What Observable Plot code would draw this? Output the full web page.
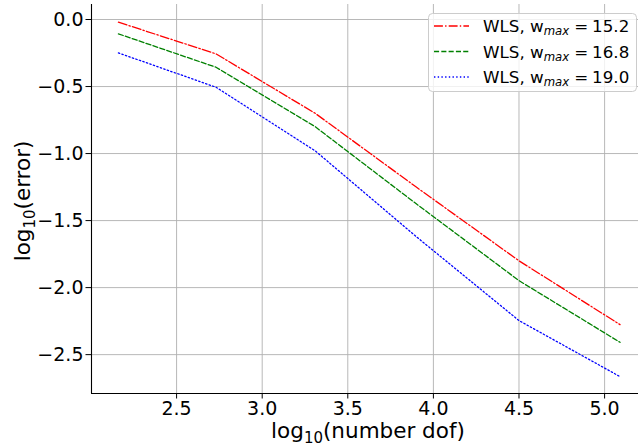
<!DOCTYPE html>
<html>
<head>
<meta charset="utf-8">
<script src="https://cdn.jsdelivr.net/npm/d3@7"></script>
<script src="https://cdn.jsdelivr.net/npm/@observablehq/plot@0.6"></script>
<style>
  html, body { margin: 0; padding: 0; background: #fff; }
  svg { display: block; }
</style>
</head>
<body>
<div id="chart"></div>
<script>
const dofLog = [2.16, 2.73, 3.31, 3.9, 4.5, 5.09];
const errRed = [-0.02, -0.256, -0.70, -1.25, -1.80, -2.276];
const errGreen = [-0.107, -0.356, -0.80, -1.375, -1.948, -2.408];
const errBlue = [-0.249, -0.505, -0.98, -1.62, -2.246, -2.664];
const seriesNames = ["15.2", "16.8", "19.0"];
const seriesColors = ["red", "green", "blue"];
const seriesDash = ["8.9,2.2,1.4,2.2", "5.1,2.2", "1.4,2.3"];
const xTicks = [2.5, 3.0, 3.5, 4.0, 4.5, 5.0];
const yTicks = [0.0, -0.5, -1.0, -1.5, -2.0, -2.5];

const allSeries = [errRed, errGreen, errBlue];
const rows = [];
allSeries.forEach((vals, s) => vals.forEach((v, i) => rows.push({x: dofLog[i], y: v, s})));

const xDom = [2.003, 5.198];
const yDom = [-2.79, 0.112];
const fmt = d3.format(".1f");

const plot = Plot.plot({
  width: 638,
  height: 448,
  marginLeft: 91,
  marginRight: 0,
  marginTop: 4,
  marginBottom: 55,
  style: {fontFamily: "DejaVu Sans", fontSize: "19px", background: "#fff", color: "#000"},
  x: {domain: xDom, label: null},
  y: {domain: yDom, label: null},
  marks: [
    Plot.gridX(xTicks, {stroke: "#b0b0b0", strokeOpacity: 1, strokeWidth: 0.9}),
    Plot.gridY(yTicks, {stroke: "#b0b0b0", strokeOpacity: 1, strokeWidth: 0.9}),
    Plot.axisX(xTicks, {tickSize: 5.5, tickPadding: 2, tickFormat: fmt, fontSize: 19, label: null, stroke: "#000"}),
    Plot.axisY(yTicks, {tickSize: 5.5, tickPadding: 2.5, tickFormat: fmt, fontSize: 19, label: null, stroke: "#000"}),
    Plot.ruleX([xDom[0]], {stroke: "#000", strokeWidth: 1.1}),
    Plot.ruleY([yDom[0]], {stroke: "#000", strokeWidth: 1.1}),
    ...[0, 1, 2].map(s => Plot.line(rows.filter(r => r.s === s), {
      x: "x", y: "y", stroke: seriesColors[s], strokeWidth: 1.3, strokeDasharray: seriesDash[s]
    }))
  ]
});

document.getElementById("chart").appendChild(plot);

const svg = d3.select(plot);
// axis labels
const xl = svg.append("text").attr("x", 368).attr("y", 438).attr("text-anchor", "middle")
  .attr("font-family", "DejaVu Sans").attr("font-size", 21.5).attr("fill", "#000");
xl.append("tspan").text("log");
xl.append("tspan").attr("font-size", 15).attr("dy", 5).text("10");
xl.append("tspan").attr("dy", -5).text("(number dof)");

const yl = svg.append("text").attr("transform", "translate(30,201) rotate(-90)").attr("text-anchor", "middle")
  .attr("font-family", "DejaVu Sans").attr("font-size", 21.5).attr("fill", "#000");
yl.append("tspan").text("log");
yl.append("tspan").attr("font-size", 15).attr("dy", 5).text("10");
yl.append("tspan").attr("dy", -5).text("(error)");

// legend
const lg = svg.append("g");
lg.append("rect").attr("x", 428.5).attr("y", 13.5).attr("width", 208).attr("height", 78).attr("rx", 4)
  .attr("fill", "#fff").attr("fill-opacity", 0.8).attr("stroke", "#ccc").attr("stroke-width", 1);
seriesNames.forEach((name, i) => {
  const yy = 26 + i * 25.5;
  lg.append("line").attr("x1", 434).attr("x2", 469).attr("y1", yy).attr("y2", yy)
    .attr("stroke", seriesColors[i]).attr("stroke-width", 1.3).attr("stroke-dasharray", seriesDash[i]);
  const t = lg.append("text").attr("x", 483).attr("y", yy + 6).attr("text-anchor", "start")
    .attr("font-family", "DejaVu Sans").attr("font-size", 16.7).attr("fill", "#000");
  t.append("tspan").text("WLS, w");
  t.append("tspan").attr("font-size", 11.7).attr("font-style", "italic").attr("dy", 3).text("max");
  t.append("tspan").attr("dy", -3).attr("dx", 5).text("=");
  t.append("tspan").attr("dx", 4).text(name);
});
</script>
</body>
</html>
